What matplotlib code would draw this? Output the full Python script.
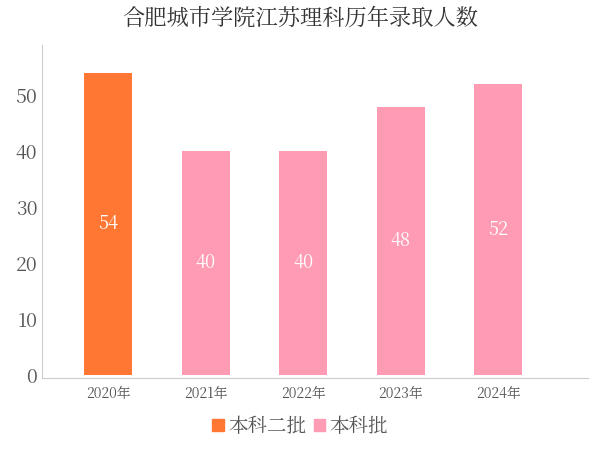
import matplotlib
matplotlib.use("Agg")
import matplotlib.pyplot as plt
from matplotlib.patches import Patch
from matplotlib import font_manager as fm

fam = None
for f in fm.findSystemFonts():
    if 'CJK' in f or 'cjk' in f.lower():
        try:
            fm.fontManager.addfont(f)
            name = fm.FontProperties(fname=f).get_name()
            if fam is None or 'SC' in name:
                fam = name
        except Exception:
            pass
plt.rcParams['font.family'] = [fam, 'DejaVu Sans'] if fam else ['Noto Sans CJK SC', 'Noto Sans CJK JP', 'DejaVu Sans']

years = ["2020年", "2021年", "2022年", "2023年", "2024年"]
values = [54, 40, 40, 48, 52]
batches = ["本科二批", "本科批", "本科批", "本科批", "本科批"]
colors_map = {"本科二批": "#FF7733", "本科批": "#FF9BB3"}

fig = plt.figure(figsize=(6, 4.5), dpi=100)
ax = fig.add_axes([0.07, 0.16, 0.91, 0.74])
x = range(len(years))
bars = ax.bar(x, values, width=0.49, color=[colors_map[b] for b in batches])
for xi, v in zip(x, values):
    ax.text(xi, v / 2, str(v), ha='center', va='center', color='white', fontsize=13)
ax.set_xticks(list(x))
ax.set_xticklabels(years, fontsize=10, color='#555555')
ax.set_yticks([0, 10, 20, 30, 40, 50])
ax.tick_params(axis='y', labelsize=14, colors='#555555', length=0)
ax.tick_params(axis='x', length=0, pad=6)
ax.set_ylim(-0.5, 59)
ax.set_xlim(-0.68, 4.92)
for s in ['top', 'right']:
    ax.spines[s].set_visible(False)
ax.spines['left'].set_color('#CCCCCC')
ax.spines['bottom'].set_color('#CCCCCC')
fig.suptitle("合肥城市学院江苏理科历年录取人数", fontsize=16, y=0.985, color='#333333')
handles = [Patch(color=colors_map[k], label=k) for k in ["本科二批", "本科批"]]
fig.legend(handles=handles, loc='lower center', ncol=2, frameon=False, fontsize=14,
           handlelength=0.6, handleheight=0.6, handletextpad=0.2, columnspacing=0.4,
           bbox_to_anchor=(0.5, -0.01), labelcolor='#555555')
fig.savefig("out.png")
